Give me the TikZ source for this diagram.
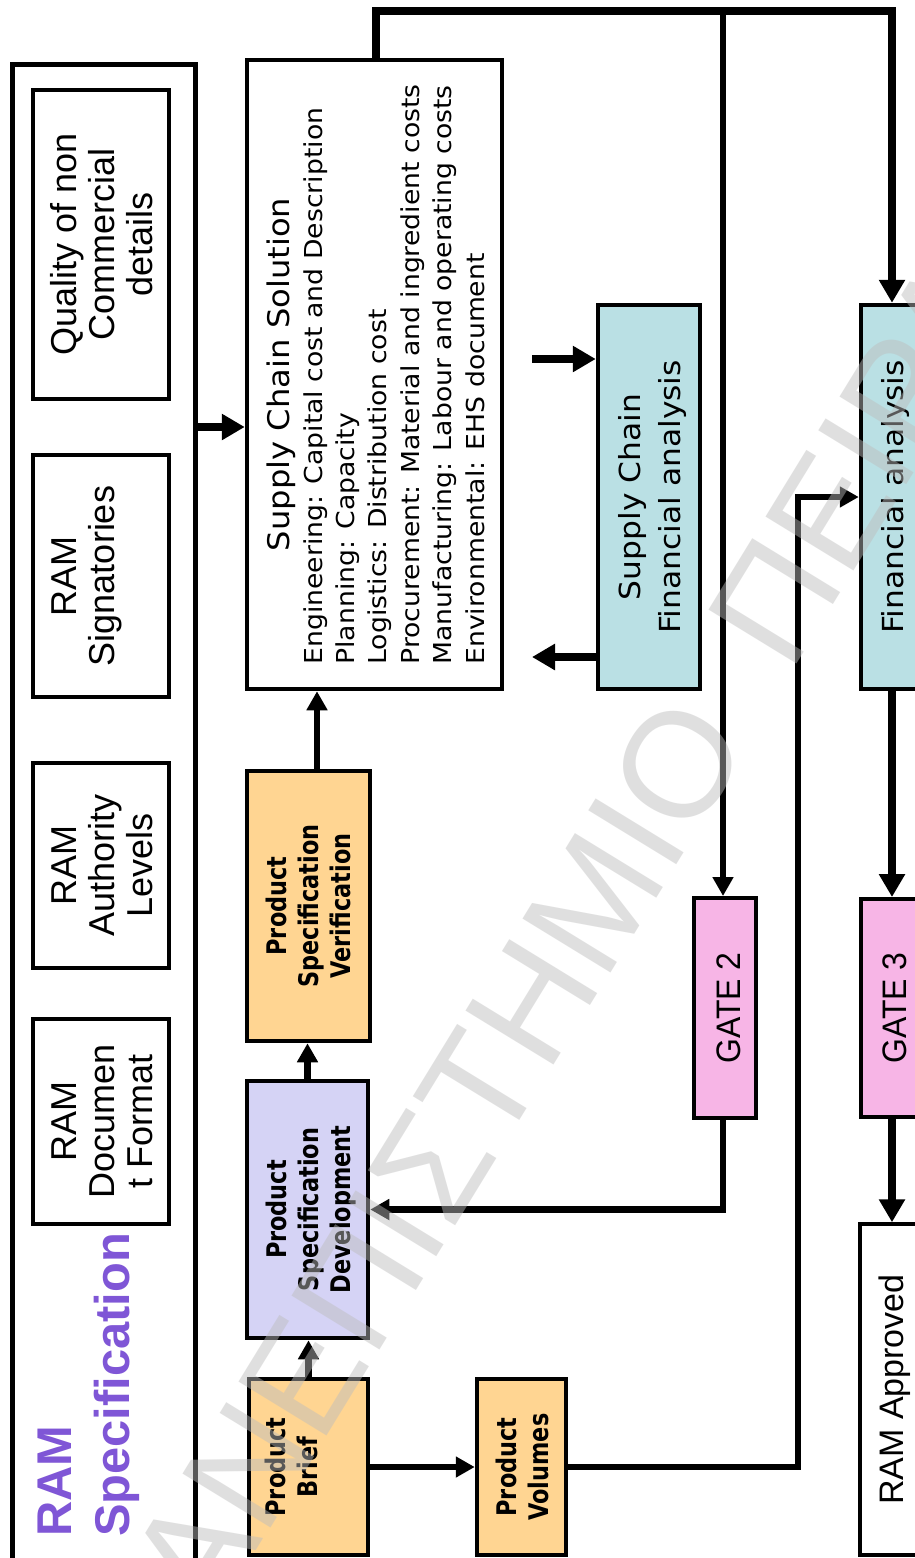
\documentclass[tikz,border=0pt]{standalone}
\usepackage{fontspec}
\setmainfont{Liberation Sans}
\newfontfamily\arialf{Liberation Sans}
\newfontfamily\gatef[FakeStretch=0.94]{Liberation Sans}
\newfontfamily\tahf[FakeStretch=1.08]{DejaVu Sans}
\newfontfamily\tahbf[FakeStretch=0.83]{DejaVu Sans}
\newfontfamily\wmf{Liberation Sans}
\usetikzlibrary{arrows.meta}

\definecolor{specpurple}{RGB}{127,86,214}
\definecolor{prodorange}{RGB}{255,213,146}
\definecolor{devlilac}{RGB}{213,211,245}
\definecolor{finteal}{RGB}{186,224,228}
\definecolor{gatepink}{RGB}{247,181,230}

% sideways multi-line label; #1 shifts the text block across the box
\newcommand\vt[2]{\kern#1\rotatebox{90}{\begin{tabular}{@{}c@{}}#2\end{tabular}}}

\begin{document}
\begin{tikzpicture}[x=1pt,y=-1pt,
  box/.style={draw=black,line width=4.5pt,inner sep=0pt,fill=white},
  inbox/.style={box,font=\arialf\fontsize{36}{38}\selectfont},
  prodbox/.style={box,fill=prodorange,font=\tahbf\bfseries\fontsize{27}{32}\selectfont},
  finbox/.style={box,fill=finteal,font=\tahf\fontsize{29}{40}\selectfont},
  gatebox/.style={box,line width=4pt,fill=gatepink,font=\gatef\fontsize{34}{38}\selectfont},
  titletext/.style={rotate=90,anchor=base west,inner sep=0pt,text=specpurple,
    font=\arialf\bfseries\fontsize{48.8}{58}\selectfont},
  bigarrow/.style={line width=8.5pt,-{Triangle[length=23pt,width=25pt]}},
  medarrow/.style={line width=6.8pt,-{Triangle[length=19pt,width=20pt]}},
  wmark/.style={rotate=58.5,inner sep=0pt,text=black!26,text opacity=0.47,
    font=\wmf\fontsize{150}{150}\selectfont}]

\fill[white] (0,0) rectangle (914,1558);
\useasboundingbox (0,0) rectangle (914,1558);

% RAM specification frame and its contents
\node[box,line width=5pt,minimum width=183pt,minimum height=1560pt] (spec) at (104,844) {};
\node[inbox,minimum width=136pt,minimum height=309pt] (qual) at (101,244.5)
  {\vt{11pt}{Quality of non\\Commercial\\details}};
\node[inbox,minimum width=136pt,minimum height=242pt] (sign) at (101,576)
  {\vt{-27pt}{RAM\\Signatories}};
\node[inbox,minimum width=136pt,minimum height=205pt] (auth) at (101,865.5)
  {\vt{11pt}{RAM\\Authority\\Levels}};
\node[inbox,minimum width=136pt,minimum height=205pt] (docf) at (101,1121.5)
  {\vt{11pt}{RAM\\Documen\\t Format}};
\node[titletext] (ttlA) at (71,1537) {RAM};
\node[titletext] (ttlB) at (129,1537) {Specification};

% product chain
\node[prodbox,minimum width=119pt,minimum height=176pt] (pb) at (308.5,1467)
  {\vt{-26pt}{Product\\Brief}};
\node[box,fill=devlilac,font=\tahbf\bfseries\fontsize{27}{32}\selectfont,
  minimum width=121pt,minimum height=257pt] (psd) at (307.5,1209.5)
  {\vt{10pt}{Product\\Specification\\Development}};
\node[prodbox,minimum width=123pt,minimum height=270pt] (psv) at (308.5,906)
  {\vt{8pt}{Product\\Specification\\Verification}};
\node[prodbox,minimum width=89pt,minimum height=176pt] (pv) at (521.5,1467)
  {\vt{10pt}{Product\\Volumes}};

% supply chain solution
\node[box,font=\tahf\fontsize{24.7}{32.4}\selectfont,
  minimum width=255pt,minimum height=629pt] (scs) at (374.5,374.5)
  {\kern12pt\rotatebox{90}{\begin{tabular}{@{}l@{}}
   \multicolumn{1}{@{}c@{}}{\fontsize{29.8}{32.4}\selectfont Supply Chain Solution}\\
   Engineering: Capital cost and Description\\
   Planning: Capacity\\
   Logistics: Distribution cost\\
   Procurement: Material and ingredient costs\\
   Manufacturing: Labour and operating costs\\
   Environmental: EHS document
  \end{tabular}}};

\node[finbox,minimum width=102pt,minimum height=384pt] (scf) at (649,497)
  {\vt{6pt}{Supply Chain\\Financial analysis}};
\node[finbox,minimum width=68pt,minimum height=384pt] (fa) at (895,497)
  {\vt{0pt}{Financial analysis}};
\node[gatebox,minimum width=62pt,minimum height=220pt] (g2) at (725,1008)
  {\vt{16pt}{GATE 2}};
\node[gatebox,minimum width=68pt,minimum height=218pt] (g3) at (895,1008)
  {\vt{7pt}{GATE 3}};
\node[box,line width=3.5pt,font=\arialf\fontsize{34}{38}\selectfont,
  minimum width=69pt,minimum height=331pt] (ok) at (894.5,1389.5)
  {\vt{2pt}{RAM Approved}};

% routing points
\coordinate (topL) at (376,11);
\coordinate (topJ) at (723,11);
\coordinate (topR) at (892,11);
\coordinate (pvBend) at (798,497);
\coordinate (scIn) at (532,359);
\coordinate (scOut) at (532,657);

% connectors
\draw[bigarrow] (spec.east |- 0,427) -- (scs.west |- 0,427);
\draw[medarrow] (pb.north) -- (psd.south -| pb.north);
\draw[medarrow] (psd.north) -- (psv.south -| psd.north);
\draw[medarrow] (psv.north -| 317,0) -- (scs.south -| 317,0);
\draw[medarrow] (pb.east) -- (pv.west);
\draw[medarrow] (pv.east) -| (pvBend) -- (fa.west |- pvBend);
\draw[bigarrow] (scs.north -| topL) -- (topL) -- (topR) -- (fa.north -| topR);
\draw[medarrow] (topJ) -- (g2.north -| topJ);
\draw[medarrow] (g2.south -| topJ) |- (psd.east);
\draw[bigarrow] (scIn) -- (scf.west |- scIn);
\draw[bigarrow] (scf.west |- scOut) -- (scOut);
\draw[bigarrow] (fa.south -| topR) -- (g3.north -| topR);
\draw[bigarrow] (g3.south -| topR) -- (ok.north -| topR);

% watermark lettering across the sheet
\node[wmark,anchor=base east] (wmA) at (752.5,741.5) {ΠΑΝΕΠΙΣΤΗΜΙΟ};
\node[wmark,anchor=base west] (wmB) at (790.7,674.4) {ΠΕΙΡΑΙΩΣ};
\end{tikzpicture}
\end{document}
